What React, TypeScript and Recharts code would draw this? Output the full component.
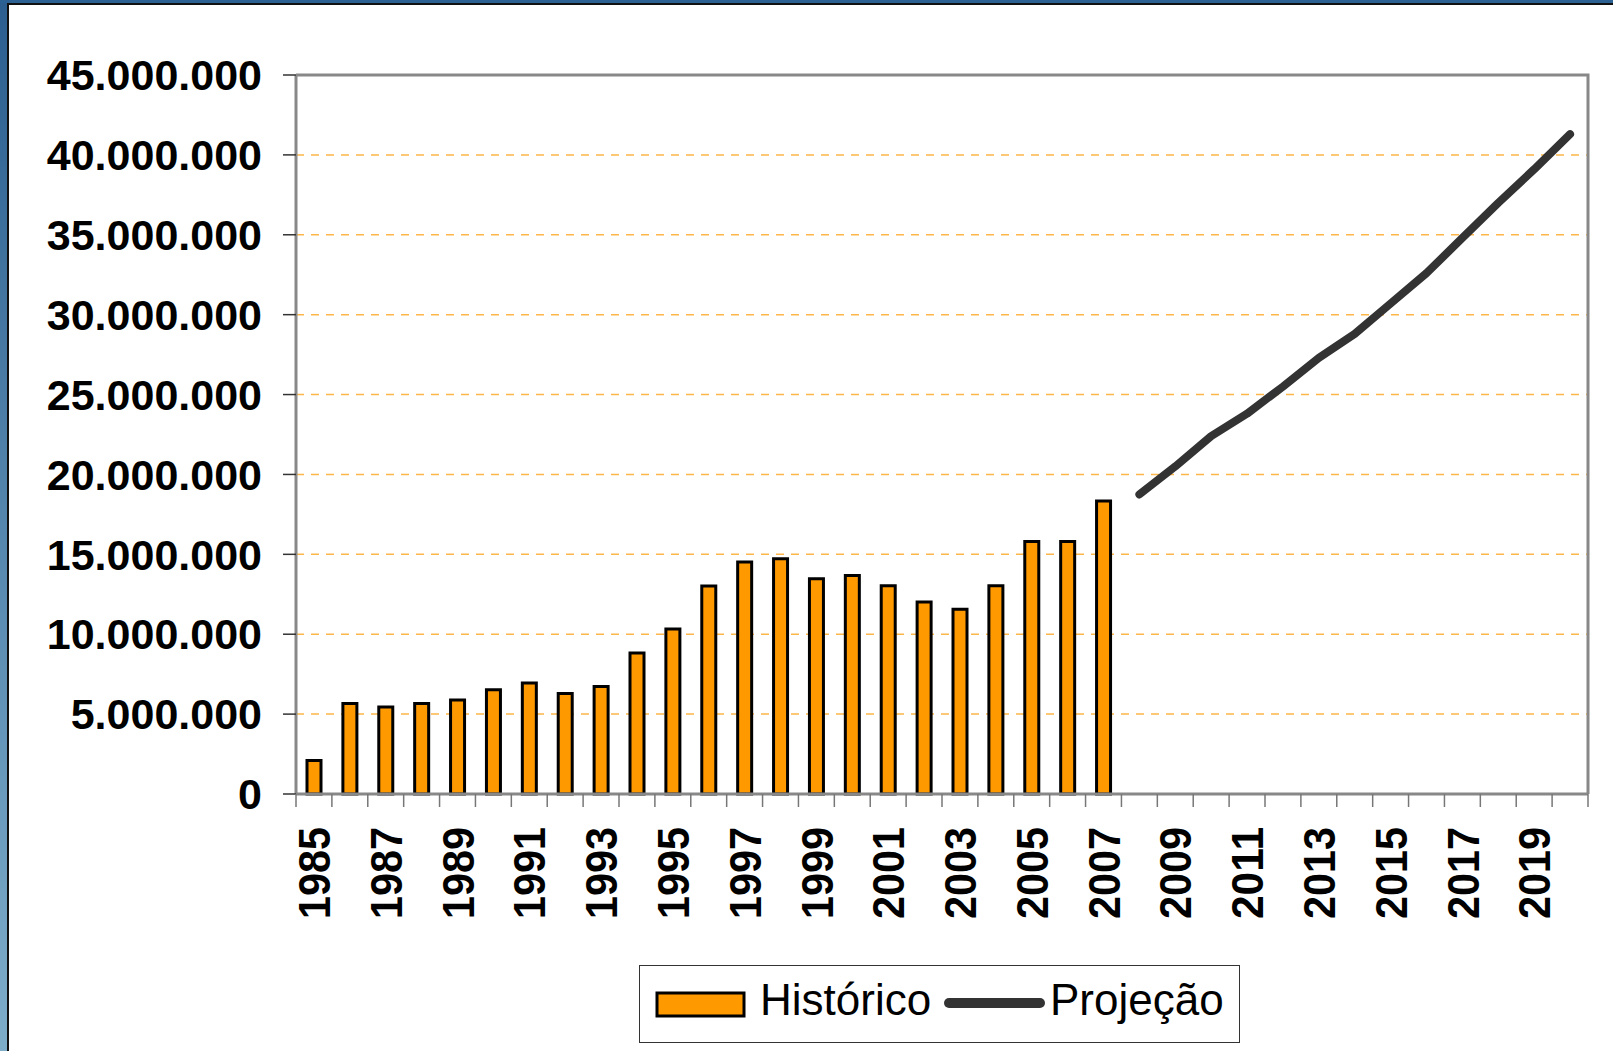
import { ComposedChart, Bar, Line, XAxis, YAxis, CartesianGrid } from "recharts"

const years = [
  "1985", "1986", "1987", "1988", "1989", "1990", "1991", "1992", "1993", "1994", "1995", "1996",
  "1997", "1998", "1999", "2000", "2001", "2002", "2003", "2004", "2005", "2006", "2007", "2008",
  "2009", "2010", "2011", "2012", "2013", "2014", "2015", "2016", "2017", "2018", "2019", "2020",
]

// Histórico 1985-2007
const historico = [
  2100000, 5660000, 5450000, 5660000, 5890000, 6520000, 6940000, 6290000, 6730000, 8830000, 10320000,
  13020000, 14520000, 14720000, 13470000, 13680000, 13030000, 12010000, 11570000, 13030000, 15800000,
  15800000, 18340000,
]

// Projeção 2008-2020
const projecao = [
  18750000, 20500000, 22400000, 23800000, 25500000, 27300000, 28800000, 30700000, 32600000, 34800000,
  37000000, 39100000, 41300000,
]

const yTicks = [0, 5000000, 10000000, 15000000, 20000000, 25000000, 30000000, 35000000, 40000000, 45000000]

const projStart = years.length - projecao.length
const data = years.map((year, i) => ({
  year,
  hist: i < historico.length ? historico[i] : null,
  proj: i >= projStart ? projecao[i - projStart] : null,
}))

const W = 1613
const H = 1051
const PLOT_LEFT = 296
const PLOT_RIGHT = 1588
const PLOT_TOP = 75
const PLOT_BOTTOM = 794
const BAND = (PLOT_RIGHT - PLOT_LEFT) / years.length

const fmt = (v: number) => String(v).replace(/\B(?=(\d{3})+(?!\d))/g, ".")

function YearTick({ x, y, payload }: any) {
  const idx = years.indexOf(payload.value)
  const half = BAND / 2
  return (
    <g>
      <line x1={x - half} x2={x - half} y1={y} y2={y + 13} stroke="#777" strokeWidth={1.5} />
      {idx === years.length - 1 && (
        <line x1={x + half} x2={x + half} y1={y} y2={y + 13} stroke="#777" strokeWidth={1.5} />
      )}
      {idx % 2 === 0 && (
        <text
          transform={`translate(${x},${y + 33}) rotate(-90)`}
          textAnchor="end"
          dy="0.36em"
          fontFamily="Liberation Sans, Arial, sans-serif"
          fontWeight="bold"
          fontSize={45}
          textLength={92}
          lengthAdjust="spacingAndGlyphs"
          fill="#000"
        >
          {payload.value}
        </text>
      )}
    </g>
  )
}

// moldura superior/direita do gráfico + legenda
function Overlay() {
  return (
    <svg width={W} height={H} style={{ position: "absolute", left: 0, top: 0, pointerEvents: "none" }}>
      <polyline
        points={`${PLOT_LEFT},${PLOT_TOP} ${PLOT_RIGHT},${PLOT_TOP} ${PLOT_RIGHT},${PLOT_BOTTOM}`}
        fill="none"
        stroke="#888"
        strokeWidth={3}
      />
      <rect x={639.5} y={965.5} width={600} height={77} fill="#fff" stroke="#333" strokeWidth={1} />
      <rect x={657} y={993} width={87} height={23} fill="#FF9900" stroke="#000" strokeWidth={3} />
      <text x={760} y={1015} fontFamily="Liberation Sans, Arial, sans-serif" fontSize={44} fill="#000">
        Histórico
      </text>
      <line x1={949} x2={1040} y1={1003} y2={1003} stroke="#333" strokeWidth={10} strokeLinecap="round" />
      <text x={1050} y={1015} fontFamily="Liberation Sans, Arial, sans-serif" fontSize={44} fill="#000">
        Projeção
      </text>
    </svg>
  )
}

export default function App() {
  return (
    <div style={{ position: "absolute", left: 0, top: 0, width: W, height: H, background: "#fff", overflow: "hidden" }}>
      <div style={{ position: "absolute", left: 0, top: 0, width: 7, height: H, background: "linear-gradient(#2c5f90, #7eadca)" }} />
      <div style={{ position: "absolute", left: 0, top: 0, width: W, height: 3, background: "#2c6193" }} />
      <div style={{ position: "absolute", left: 7, top: 3, width: W, height: 2, background: "#111" }} />
      <div style={{ position: "absolute", left: 7, top: 3, width: 1.5, height: H, background: "#111" }} />
      <ComposedChart
        width={W}
        height={H}
        data={data}
        margin={{ top: PLOT_TOP, right: W - PLOT_RIGHT, left: 16, bottom: H - PLOT_BOTTOM - 150 }}
        barCategoryGap="0%"
        style={{ position: "absolute", left: 0, top: 0 }}
      >
        <CartesianGrid vertical={false} stroke="#FDB64A" strokeDasharray="8 7" strokeWidth={1.5} />
        <XAxis
          dataKey="year"
          interval={0}
          height={150}
          tickLine={false}
          tickSize={0}
          tickMargin={0}
          axisLine={{ stroke: "#888", strokeWidth: 3 }}
          tick={<YearTick />}
        />
        <YAxis
          domain={[0, 45000000]}
          ticks={yTicks}
          width={280}
          tickSize={13}
          tickMargin={21}
          tickFormatter={fmt}
          tickLine={{ stroke: "#333", strokeWidth: 1.5 }}
          axisLine={{ stroke: "#888", strokeWidth: 3 }}
          tick={{ fontSize: 43, fontWeight: "bold", fill: "#000", fontFamily: "Liberation Sans, Arial, sans-serif" }}
        />
        <Bar dataKey="hist" name="Histórico" fill="#FF9900" stroke="#000" strokeWidth={3} barSize={14} isAnimationActive={false} />
        <Line
          dataKey="proj"
          name="Projeção"
          type="linear"
          stroke="#333"
          strokeWidth={8}
          strokeLinecap="round"
          strokeLinejoin="round"
          dot={false}
          activeDot={false}
          isAnimationActive={false}
        />
      </ComposedChart>
      <Overlay />
    </div>
  )
}
